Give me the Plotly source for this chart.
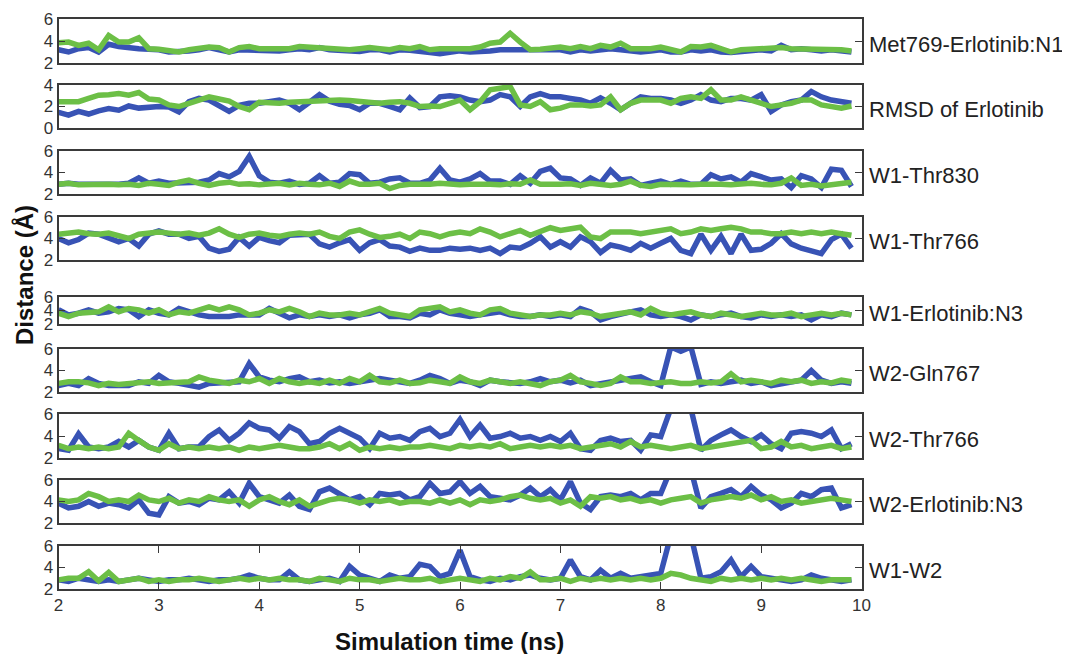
import numpy as np
import plotly.graph_objects as go

# time axis (ns), 0.1 ns sampling
time_ns = [round(2.0 + 0.1 * i, 1) for i in range(80)]

panel_labels = ["Met769-Erlotinib:N1", "RMSD of Erlotinib", "W1-Thr830", "W1-Thr766",
                "W1-Erlotinib:N3", "W2-Gln767", "W2-Thr766", "W2-Erlotinib:N3", "W1-W2"]

met769_blue = [3.2, 3.0, 3.3, 3.4, 3.0, 3.7, 3.5, 3.35, 3.3, 3.25,
               3.2, 3.0, 3.0, 3.1, 3.2, 3.4, 3.2, 3.0, 3.2, 3.15,
               3.2, 3.05, 3.1, 3.2, 3.3, 3.2, 3.4, 3.2, 3.15, 3.2,
               3.05, 3.2, 3.2, 3.0, 3.2, 3.15, 3.1, 2.95, 2.85, 3.0,
               3.1, 3.0, 3.0, 3.1, 3.2, 3.2, 3.1, 3.2, 3.2, 3.1,
               3.2, 3.0, 3.2, 3.1, 3.2, 3.3, 3.2, 3.1, 3.0, 3.1,
               3.2, 3.0, 3.0, 3.2, 3.1, 3.2, 3.0, 2.95, 3.0, 3.1,
               3.2, 3.1, 3.6, 3.2, 3.3, 3.2, 3.1, 3.2, 3.1, 3.0]
met769_green = [3.85, 3.9, 3.6, 3.8, 3.2, 4.5, 3.9, 3.9, 4.3, 3.3,
                3.25, 3.15, 3.0, 3.2, 3.3, 3.45, 3.4, 3.0, 3.4, 3.5,
                3.3, 3.3, 3.35, 3.3, 3.5, 3.45, 3.4, 3.3, 3.35, 3.2,
                3.3, 3.4, 3.3, 3.2, 3.4, 3.3, 3.5, 3.2, 3.3, 3.3,
                3.2, 3.3, 3.45, 3.8, 3.9, 4.7, 3.9, 3.2, 3.25, 3.3,
                3.45, 3.3, 3.5, 3.3, 3.6, 3.45, 3.8, 3.3, 3.25, 3.3,
                3.45, 3.2, 3.0, 3.5, 3.45, 3.6, 3.3, 3.0, 3.2, 3.25,
                3.3, 3.4, 3.4, 3.3, 3.3, 3.25, 3.25, 3.2, 3.2, 3.1]

rmsd_blue = [1.45, 1.2, 1.55, 1.3, 1.6, 1.8, 1.65, 2.05, 1.85, 1.95,
             2.0, 1.95, 1.5, 2.45, 2.75, 2.6, 2.0, 1.55, 2.1, 2.3,
             2.3, 2.4, 2.6, 2.3, 1.7, 2.4, 3.1, 2.5, 2.2, 2.1,
             1.7, 2.3, 2.3, 2.0, 1.7, 2.8, 1.9, 2.0, 2.9, 3.0,
             2.9, 2.6, 2.45, 2.6, 3.1, 2.9, 2.0, 2.9, 3.2, 2.9,
             2.9, 2.75, 2.6, 2.3, 2.8, 2.3, 1.7, 2.3, 2.9, 2.75,
             2.75, 2.6, 2.3, 2.6, 3.1, 2.6, 2.45, 2.75, 2.75, 2.6,
             3.1, 1.55, 2.15, 2.45, 2.6, 3.4, 2.9, 2.6, 2.45, 2.3]
rmsd_green = [2.45, 2.4, 2.45, 2.75, 3.05, 3.1, 3.2, 3.05, 3.3, 2.7,
              2.6, 2.15, 2.0, 2.3, 2.6, 2.9, 2.7, 2.5, 2.0, 1.7,
              2.4, 2.3, 2.3, 2.4, 2.45, 2.5, 2.6, 2.6, 2.6, 2.55,
              2.45, 2.3, 2.3, 2.4, 2.45, 2.3, 2.0, 2.05, 2.0, 2.3,
              2.6, 1.7, 2.45, 3.55, 3.7, 3.85, 2.15, 2.0, 2.45, 1.7,
              1.85, 2.15, 2.15, 2.05, 2.15, 2.9, 1.7, 2.3, 2.6, 2.6,
              2.6, 2.3, 2.75, 2.9, 2.75, 3.55, 2.6, 2.6, 2.9, 2.6,
              2.3, 2.0, 2.15, 2.3, 2.6, 2.6, 2.15, 2.05, 1.85, 2.05]

w1_thr830_blue = [2.9, 3.0, 2.9, 2.9, 2.85, 2.9, 2.9, 3.0, 3.5, 3.0,
                  3.2, 3.0, 3.0, 3.0, 3.1, 3.3, 3.9, 3.6, 4.1, 5.5,
                  3.7, 3.1, 3.0, 3.2, 2.9, 3.0, 3.7, 3.0, 3.1, 3.9,
                  3.8, 3.0, 3.1, 3.4, 3.5, 3.0, 3.0, 3.3, 4.4, 3.3,
                  3.1, 3.4, 3.9, 3.2, 3.2, 2.9, 3.7, 3.0, 4.1, 4.4,
                  3.5, 3.4, 2.8, 3.5, 3.0, 4.2, 3.3, 3.4, 2.8, 3.0,
                  3.2, 2.9, 3.2, 2.9, 2.9, 3.8, 3.4, 3.6, 3.1, 3.9,
                  3.6, 3.3, 3.4, 2.6, 3.7, 3.4, 2.6, 4.3, 4.2, 2.7]
w1_thr830_green = [2.9, 3.0, 2.85, 2.9, 2.85, 2.9, 2.85, 2.9, 2.8, 3.0,
                   2.9, 2.8, 3.1, 3.3, 3.0, 2.8, 3.0, 3.1, 2.9, 2.95,
                   2.85, 2.9, 3.0, 2.85, 3.0, 2.9, 2.85, 3.0, 2.7, 3.2,
                   2.9, 2.9, 3.0, 2.5, 2.8, 2.9, 2.85, 2.9, 3.0, 2.9,
                   2.85, 2.9, 2.95, 2.9, 2.85, 2.95, 2.9, 3.3, 2.9, 2.85,
                   2.9, 2.95, 2.8, 3.0, 2.9, 2.8, 2.9, 3.2, 2.8, 2.7,
                   2.9, 2.85, 2.9, 2.85, 2.9, 2.95, 2.9, 2.85, 2.9, 3.0,
                   2.9, 2.85, 3.0, 3.5, 2.8, 2.9, 2.75, 2.85, 3.0, 3.1]

w1_thr766_blue = [4.0, 3.6, 3.9, 4.5, 4.4, 4.1, 3.7, 4.0, 3.3, 4.4,
                  4.7, 4.4, 4.4, 4.0, 4.2, 3.1, 2.8, 3.0, 4.1, 3.3,
                  4.1, 3.8, 3.6, 4.3, 4.4, 4.4, 3.5, 3.2, 3.6, 3.9,
                  2.9, 3.6, 3.9, 3.3, 3.2, 2.8, 3.1, 2.9, 2.9, 3.1,
                  3.0, 3.1, 2.9, 3.1, 2.6, 3.2, 3.1, 3.55, 4.15, 3.2,
                  3.7, 3.2, 4.15, 3.7, 2.7, 3.4, 3.2, 2.9, 3.55, 3.1,
                  3.55, 4.0, 2.9, 2.6, 4.4, 2.9, 4.2, 2.6, 4.4, 2.9,
                  3.0, 3.55, 4.45, 3.5, 3.1, 2.9, 2.6, 3.9, 4.4, 3.1]
w1_thr766_green = [4.4, 4.5, 4.6, 4.45, 4.4, 4.5, 4.3, 4.0, 4.4, 4.5,
                   4.6, 4.5, 4.4, 4.5, 4.3, 4.5, 4.9, 4.4, 4.1, 4.4,
                   4.5, 4.3, 4.2, 4.4, 4.5, 4.4, 4.6, 4.2, 4.0, 4.6,
                   4.8, 4.4, 4.1, 4.2, 4.4, 4.0, 4.6, 4.45, 4.15, 4.45,
                   4.6, 4.45, 4.9, 4.6, 4.15, 4.45, 4.75, 4.3, 4.6, 5.0,
                   4.75, 4.9, 5.05, 4.15, 4.0, 4.6, 4.6, 4.6, 4.45, 4.6,
                   4.75, 4.9, 4.45, 4.6, 4.9, 4.75, 4.9, 5.05, 4.9, 4.6,
                   4.6, 4.45, 4.45, 4.6, 4.45, 4.6, 4.45, 4.6, 4.45, 4.3]

w1_erl_blue = [4.1, 3.35, 3.6, 4.1, 3.6, 3.8, 4.3, 4.1, 3.1, 4.1,
               3.6, 3.35, 4.3, 3.8, 3.35, 3.1, 3.1, 3.1, 3.35, 3.35,
               3.35, 4.3, 3.6, 2.9, 3.35, 3.1, 3.35, 3.1, 3.35, 2.9,
               3.35, 3.6, 4.1, 3.1, 3.1, 2.9, 3.6, 3.35, 4.1, 3.6,
               3.35, 3.1, 3.35, 3.6, 3.8, 3.35, 3.1, 3.1, 3.35, 3.1,
               3.35, 3.1, 4.3, 3.8, 2.6, 3.1, 3.35, 3.8, 4.1, 3.35,
               3.1, 3.35, 3.1, 2.6, 3.35, 3.1, 3.35, 3.6, 3.1, 2.9,
               3.35, 3.1, 3.35, 3.1, 3.35, 2.6, 3.35, 3.1, 3.6, 3.35]
w1_erl_green = [3.6, 3.1, 3.6, 3.6, 3.8, 4.55, 3.8, 4.3, 4.1, 3.6,
                4.1, 3.35, 3.8, 3.6, 4.1, 4.55, 4.1, 4.55, 4.1, 3.35,
                3.6, 4.1, 3.8, 4.3, 3.8, 3.1, 3.6, 3.35, 3.35, 3.6,
                3.35, 3.8, 4.3, 3.6, 3.35, 3.1, 4.1, 4.3, 4.55, 3.8,
                4.1, 3.6, 3.35, 4.1, 4.3, 3.6, 3.35, 3.1, 3.35, 3.35,
                3.6, 3.35, 3.8, 3.6, 3.1, 3.35, 3.6, 3.8, 3.35, 4.3,
                3.6, 3.35, 3.6, 3.8, 3.35, 3.1, 3.6, 3.35, 3.1, 3.35,
                3.6, 3.35, 3.35, 3.6, 3.1, 3.35, 3.6, 3.35, 3.6, 3.35]

w2_gln767_blue = [2.6, 2.8, 2.6, 3.25, 2.8, 2.6, 2.6, 2.6, 2.95, 2.8,
                  3.55, 2.95, 2.8, 2.6, 2.45, 2.8, 2.85, 2.95, 2.95, 4.65,
                  3.4, 3.1, 2.95, 3.25, 3.4, 2.95, 3.1, 2.85, 2.95, 2.8,
                  2.95, 3.1, 3.25, 3.1, 2.95, 2.8, 3.1, 3.55, 3.25, 2.8,
                  3.1, 2.95, 2.6, 3.1, 2.95, 2.85, 2.8, 2.95, 3.25, 2.95,
                  3.1, 2.85, 3.1, 2.6, 2.8, 2.95, 3.1, 3.25, 3.4, 2.95,
                  2.6, 6.2, 5.8, 6.2, 2.7, 2.95, 2.8, 2.95, 3.1, 2.8,
                  2.95, 2.6, 2.8, 2.95, 3.1, 4.0, 3.1, 2.8, 2.95, 2.8]
w2_gln767_green = [2.8, 2.95, 2.95, 2.85, 2.6, 2.8, 2.7, 2.8, 2.95, 2.95,
                   2.8, 2.85, 2.95, 2.95, 3.4, 3.1, 2.95, 2.8, 3.1, 2.95,
                   3.25, 2.8, 3.25, 2.95, 2.8, 2.95, 2.8, 3.1, 2.8, 3.25,
                   2.95, 3.55, 2.95, 2.85, 3.1, 2.8, 2.85, 3.1, 2.95, 2.8,
                   3.4, 2.95, 2.8, 3.1, 2.95, 2.8, 2.95, 2.8, 2.6, 2.95,
                   3.1, 3.55, 2.95, 2.8, 2.6, 2.8, 3.4, 2.95, 2.95, 2.8,
                   2.85, 2.95, 2.8, 2.8, 2.95, 2.85, 2.95, 3.7, 2.95, 3.1,
                   2.95, 2.8, 3.1, 2.95, 3.1, 2.8, 2.95, 2.85, 3.1, 2.95]

w2_thr766_blue = [2.85, 2.7, 4.2, 3.0, 2.85, 3.0, 3.5, 3.0, 3.6, 3.0,
                  2.7, 4.25, 2.85, 3.0, 3.0, 3.95, 4.55, 3.6, 4.25, 5.2,
                  4.7, 4.55, 3.8, 4.85, 4.4, 3.3, 3.5, 4.25, 4.7, 4.25,
                  3.8, 2.85, 4.25, 3.8, 3.95, 3.6, 4.4, 4.7, 3.95, 4.25,
                  5.5, 3.95, 5.0, 3.8, 3.95, 4.25, 3.8, 3.95, 3.6, 3.95,
                  3.5, 4.25, 2.85, 2.7, 3.6, 3.8, 3.5, 3.6, 2.7, 4.1,
                  3.95, 6.5, 6.5, 6.5, 2.7, 3.6, 4.1, 4.55, 3.95, 3.5,
                  4.1, 3.3, 2.85, 4.25, 4.4, 4.25, 3.95, 4.55, 2.85, 3.3]
w2_thr766_green = [3.15, 2.85, 3.0, 2.85, 3.0, 2.85, 3.0, 4.25, 3.6, 3.0,
                   2.7, 3.3, 2.85, 3.0, 2.85, 3.0, 2.85, 3.0, 2.7, 3.0,
                   2.85, 3.0, 3.15, 3.0, 2.85, 2.85, 3.0, 3.3, 2.85, 3.3,
                   2.7, 3.0, 2.85, 3.0, 2.85, 3.0, 3.0, 3.15, 3.0, 2.85,
                   3.15, 3.0, 3.15, 3.0, 3.3, 2.85, 3.0, 3.15, 3.0, 3.15,
                   3.0, 3.15, 2.85, 3.0, 3.15, 3.3, 3.0, 3.5, 3.0, 3.15,
                   3.0, 2.85, 3.0, 3.15, 2.85, 3.0, 3.15, 3.3, 3.5, 3.6,
                   2.85, 3.0, 3.5, 3.0, 3.15, 2.85, 3.0, 3.15, 2.85, 3.0]

w2_erl_blue = [3.85, 3.4, 3.55, 4.0, 3.55, 3.85, 3.7, 3.4, 4.15, 2.9,
               2.75, 4.45, 3.85, 4.0, 3.7, 4.3, 4.15, 4.9, 3.85, 5.7,
               4.45, 4.15, 3.85, 4.6, 3.55, 3.25, 4.9, 5.25, 4.75, 4.15,
               4.45, 3.7, 4.75, 4.6, 4.75, 4.15, 4.45, 5.7, 4.75, 4.9,
               5.85, 4.75, 5.4, 4.45, 4.3, 4.15, 4.6, 5.25, 4.45, 5.1,
               4.15, 5.85, 3.85, 3.25, 4.45, 4.6, 4.45, 4.75, 4.15, 4.75,
               4.75, 7.0, 7.0, 7.0, 3.4, 4.45, 4.75, 5.1, 4.45, 5.4,
               4.6, 4.15, 3.4, 3.85, 4.75, 4.45, 5.1, 5.25, 3.4, 3.7]
w2_erl_green = [4.15, 4.0, 4.15, 4.75, 4.45, 4.0, 4.15, 4.0, 4.6, 4.15,
                4.0, 4.3, 3.85, 4.15, 4.0, 4.45, 4.15, 4.0, 4.15, 3.55,
                4.15, 4.45, 4.0, 3.7, 4.15, 3.55, 3.85, 4.15, 4.3, 4.15,
                3.85, 4.15, 4.0, 4.15, 3.85, 4.0, 4.0, 3.85, 4.15, 3.85,
                4.15, 3.7, 4.15, 4.0, 4.15, 4.45, 4.6, 4.3, 4.15, 4.3,
                3.85, 4.15, 3.55, 4.45, 4.3, 4.45, 4.15, 4.3, 4.0, 4.15,
                3.85, 4.15, 4.3, 4.45, 3.85, 4.15, 4.3, 4.45, 4.3, 4.6,
                4.15, 4.45, 4.0, 4.15, 3.85, 4.0, 4.15, 4.3, 4.15, 4.0]

w1_w2_blue = [2.85, 2.7, 3.0, 2.85, 2.7, 2.85, 2.7, 2.85, 3.0, 2.85,
              2.7, 2.85, 2.85, 3.0, 2.85, 2.7, 2.85, 2.85, 3.0, 3.3,
              3.0, 2.85, 2.85, 3.6, 2.85, 2.7, 2.85, 3.0, 2.7, 4.1,
              3.3, 3.0, 2.7, 3.3, 3.0, 3.15, 4.3, 4.1, 3.15, 3.45,
              5.6, 3.15, 2.85, 2.7, 3.0, 2.85, 3.15, 3.3, 3.0, 2.85,
              3.0, 4.7, 3.15, 2.85, 3.75, 3.0, 3.45, 3.0, 3.15, 3.3,
              3.45, 7.0, 7.0, 7.0, 3.0, 3.15, 3.6, 4.7, 3.15, 4.1,
              3.15, 3.0, 2.85, 2.7, 2.85, 3.3, 3.0, 2.85, 2.7, 2.85]
w1_w2_green = [2.85, 3.0, 3.0, 3.6, 2.75, 3.55, 2.7, 2.85, 3.0, 2.7,
               2.85, 2.7, 2.85, 2.85, 3.0, 2.85, 2.7, 2.85, 3.0, 2.85,
               3.0, 2.85, 3.0, 2.85, 2.85, 2.7, 3.0, 2.85, 2.7, 3.0,
               2.85, 2.85, 2.7, 2.85, 3.0, 2.85, 2.85, 3.0, 2.7, 2.85,
               3.0, 2.85, 2.7, 3.0, 2.85, 3.15, 3.0, 3.6, 2.85, 2.85,
               3.0, 2.7, 3.0, 2.85, 3.0, 2.85, 3.0, 2.85, 3.0, 2.85,
               3.0, 3.45, 3.3, 3.0, 2.85, 2.7, 3.0, 2.85, 3.0, 2.85,
               3.0, 2.85, 3.0, 2.85, 3.0, 2.85, 2.7, 2.85, 2.85, 2.85]

blue_series = [met769_blue, rmsd_blue, w1_thr830_blue, w1_thr766_blue, w1_erl_blue,
               w2_gln767_blue, w2_thr766_blue, w2_erl_blue, w1_w2_blue]
green_series = [met769_green, rmsd_green, w1_thr830_green, w1_thr766_green, w1_erl_green,
                w2_gln767_green, w2_thr766_green, w2_erl_green, w1_w2_green]
y_ranges = [[2, 6], [0, 4], [2, 6], [2, 6], [2, 6], [2, 6], [2, 6], [2, 6], [2, 6]]
x_ticks = [2, 3, 4, 5, 6, 7, 8, 9, 10]

# ---------------- layout geometry (pixels, in figure coordinates) ----------------
W, H = 1070, 654
OFF = 8  # page body margin offset
PX_LEFT, PX_RIGHT = 58.5 - OFF, 861.5 - OFF
panel_px = [(t - OFF, b - OFF) for (t, b) in
            [(19, 63), (85, 128), (151, 194), (217, 260), (297, 324),
             (349, 392), (414, 458), (480, 523), (546, 589)]]

BLUE = "#3853b5"
GREEN = "#6cbf46"
AXIS_COL = "#3a3a3a"
TICK_FONT = dict(family="Liberation Sans Narrow, Arial Narrow, Liberation Sans, Arial", size=17, color="#333333")

fig = go.Figure()
layout = dict(width=W, height=H, margin=dict(l=0, r=0, t=0, b=0, autoexpand=False),
              paper_bgcolor="white", plot_bgcolor="white", showlegend=False)

xd = [PX_LEFT / W, PX_RIGHT / W]
annotations = []
n = len(panel_labels)
for i in range(n):
    k = "" if i == 0 else str(i + 1)
    top, bot = panel_px[i]
    yd = [1 - bot / H, 1 - top / H]
    last = (i == n - 1)
    layout["xaxis" + k] = dict(
        domain=xd, range=[2, 10], anchor="y" + k, automargin=False,
        showline=True, linecolor=AXIS_COL, linewidth=1.6, mirror="ticks",
        showgrid=False, zeroline=False,
        tickvals=x_ticks, ticks="inside" if last else "", ticklen=7, tickcolor=AXIS_COL,
        showticklabels=last, tickfont=TICK_FONT,
    )
    lo, hi = y_ranges[i]
    layout["yaxis" + k] = dict(
        domain=yd, range=[lo, hi], anchor="x" + k, automargin=False,
        showline=True, linecolor=AXIS_COL, linewidth=1.6, mirror="ticks",
        showgrid=False, zeroline=False,
        tickvals=[lo, (lo + hi) / 2, hi], ticks="inside", ticklen=7, tickcolor=AXIS_COL,
        tickfont=TICK_FONT, ticklabelstandoff=0,
    )
    fig.add_trace(go.Scatter(x=time_ns, y=blue_series[i], mode="lines",
                             line=dict(color=BLUE, width=5.5), xaxis="x" + k, yaxis="y" + k))
    fig.add_trace(go.Scatter(x=time_ns, y=green_series[i], mode="lines",
                             line=dict(color=GREEN, width=5.5), xaxis="x" + k, yaxis="y" + k))
    annotations.append(dict(
        text=panel_labels[i], xref="paper", yref="paper",
        x=(867 - OFF) / W, y=1 - ((top + bot) / 2 + 3) / H, xanchor="left", yanchor="middle",
        showarrow=False, font=dict(family="Liberation Sans, Arial", size=22, color="#222222")))

annotations.append(dict(text="<b>Distance (Å)</b>", xref="paper", yref="paper",
                        x=(24 - OFF) / W, y=1 - (275 - OFF) / H, xanchor="center", yanchor="middle",
                        textangle=-90, showarrow=False,
                        font=dict(family="Liberation Sans, Arial", size=24, color="#111111")))
annotations.append(dict(text="<b>Simulation time (ns)</b>", xref="paper", yref="paper",
                        x=(449 - OFF) / W, y=1 - (641 - OFF) / H, xanchor="center", yanchor="middle",
                        showarrow=False,
                        font=dict(family="Liberation Sans, Arial", size=24, color="#111111")))
layout["annotations"] = annotations
fig.update_layout(**layout)
fig.write_html("out.html")
